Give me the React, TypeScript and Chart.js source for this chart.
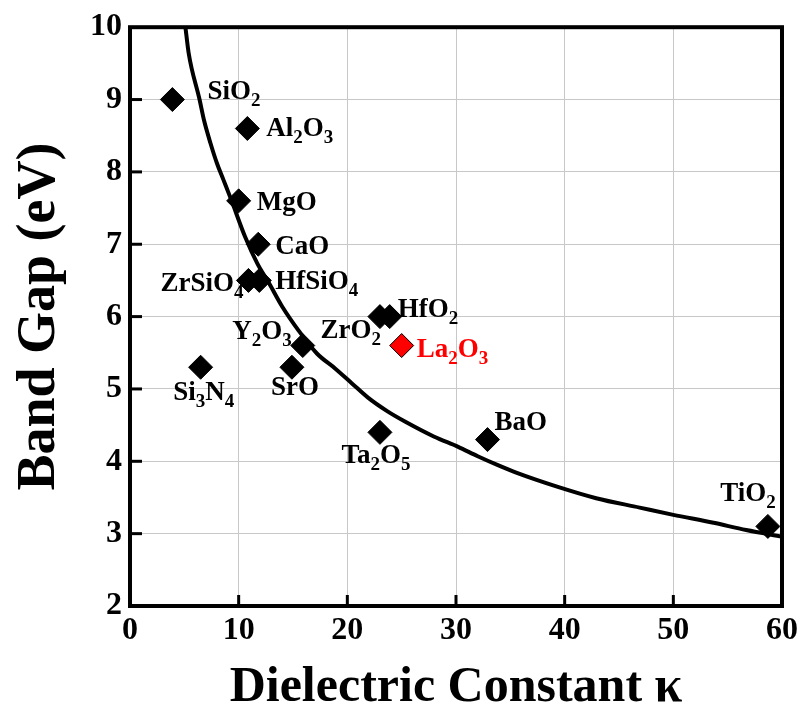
import React, { useEffect, useRef } from 'react';
import { Chart, registerables } from 'chart.js';

Chart.register(...registerables);

// ---- data ----
const materials = ['SiO_2', 'Al_2O_3', 'MgO', 'CaO', 'ZrSiO_4', 'HfSiO_4', 'HfO_2', 'ZrO_2', 'La_2O_3', 'Y_2O_3', 'SrO', 'Si_3N_4', 'Ta_2O_5', 'BaO', 'TiO_2'];
const kappa = [3.9, 10.8, 10, 11.8, 10.9, 11.9, 23.9, 23, 25, 15.9, 14.9, 6.5, 23, 32.9, 58.7];
const bandGap = [9.0, 8.6, 7.6, 7.0, 6.5, 6.5, 6.0, 6.0, 5.6, 5.6, 5.3, 5.3, 4.4, 4.3, 3.1];
const highlighted = 'La_2O_3';

const curveKappa = [5.1, 5.4, 6.4, 6.8, 7.4, 8.0, 8.6, 9.3, 10.6, 11.7, 12.8, 14.0, 15.5, 17.2, 18.9, 20.4, 21.9, 23.7, 25.3, 28.0, 30.2, 32.0, 33.8, 35.6, 39.3, 42.9, 46.9, 50.0, 53.7, 56.7, 60];
const curveGap = [10.0, 9.64, 9.0, 8.72, 8.4, 8.12, 7.89, 7.62, 7.1, 6.74, 6.46, 6.14, 5.81, 5.49, 5.28, 5.08, 4.88, 4.69, 4.55, 4.34, 4.2, 4.07, 3.95, 3.84, 3.65, 3.49, 3.36, 3.26, 3.15, 3.05, 2.96];

const xTitle = 'Dielectric Constant κ';
const yTitle = 'Band Gap (eV)';

// ---- label placement (style, not data): anchor, dx, dy(baseline) relative to marker ----
const labelPlacement: Record<string, [string, number, number]> = {
  'SiO_2': ['left', 35, -1],
  'Al_2O_3': ['left', 19, 8],
  'MgO': ['left', 18, 9],
  'CaO': ['left', 17, 10],
  'ZrSiO_4': ['right', -5, 11],
  'HfSiO_4': ['left', 16, 9],
  'HfO_2': ['left', 8, 0],
  'ZrO_2': ['right', 1, 21],
  'La_2O_3': ['left', 15, 11],
  'Y_2O_3': ['right', -11, -7],
  'SrO': ['center', 3, 28],
  'Si_3N_4': ['center', 3, 33],
  'Ta_2O_5': ['center', -4, 31],
  'BaO': ['left', 7, -10],
  'TiO_2': ['right', 8, -25],
};

const FAMILY = '"Liberation Serif", "Times New Roman", serif';
const MAIN_FONT = `bold 27px ${FAMILY}`;
const SUB_FONT = `bold 19px ${FAMILY}`;
const SUB_SHIFT = 7;

function parseLabel(s: string): { t: string; sub: boolean }[] {
  const parts: { t: string; sub: boolean }[] = [];
  let i = 0;
  let buf = '';
  while (i < s.length) {
    if (s[i] === '_') {
      if (buf) parts.push({ t: buf, sub: false });
      buf = '';
      parts.push({ t: s[i + 1], sub: true });
      i += 2;
    } else {
      buf += s[i];
      i++;
    }
  }
  if (buf) parts.push({ t: buf, sub: false });
  return parts;
}

const labelsPlugin = {
  id: 'materialLabels',
  afterDatasetsDraw(chart: any) {
    const ctx = chart.ctx;
    const xs = chart.scales.x;
    const ys = chart.scales.y;
    ctx.save();
    ctx.textBaseline = 'alphabetic';
    ctx.textAlign = 'left';
    materials.forEach((m, i) => {
      const px = xs.getPixelForValue(kappa[i]);
      const py = ys.getPixelForValue(bandGap[i]);
      const [anchor, dx, dy] = labelPlacement[m] || ['left', 12, 8];
      const parts = parseLabel(m);
      let w = 0;
      parts.forEach((p) => {
        ctx.font = p.sub ? SUB_FONT : MAIN_FONT;
        w += ctx.measureText(p.t).width;
      });
      let x = px + dx;
      if (anchor === 'right') x -= w;
      else if (anchor === 'center') x -= w / 2;
      const y = py + dy;
      ctx.fillStyle = m === highlighted ? '#ff0000' : '#000000';
      parts.forEach((p) => {
        ctx.font = p.sub ? SUB_FONT : MAIN_FONT;
        ctx.fillText(p.t, x, p.sub ? y + SUB_SHIFT : y);
        x += ctx.measureText(p.t).width;
      });
    });
    ctx.restore();
  },
};

const framePlugin = {
  id: 'frameAndTicks',
  afterDraw(chart: any) {
    const ctx = chart.ctx;
    const { left, right, top, bottom } = chart.chartArea;
    const xs = chart.scales.x;
    const ys = chart.scales.y;
    ctx.save();
    ctx.strokeStyle = '#000';
    ctx.lineWidth = 3;
    xs.ticks.forEach((t: any) => {
      const px = xs.getPixelForValue(t.value);
      if (Math.abs(px - left) < 2 || Math.abs(px - right) < 2) return;
      ctx.beginPath();
      ctx.moveTo(px, bottom);
      ctx.lineTo(px, bottom - 11);
      ctx.stroke();
    });
    ys.ticks.forEach((t: any) => {
      const py = ys.getPixelForValue(t.value);
      if (Math.abs(py - top) < 2 || Math.abs(py - bottom) < 2) return;
      ctx.beginPath();
      ctx.moveTo(left, py);
      ctx.lineTo(left + 12, py);
      ctx.stroke();
    });
    ctx.lineWidth = 4;
    ctx.strokeRect(left, top, right - left, bottom - top);
    ctx.restore();
  },
};

export default function App() {
  const ref = useRef<HTMLCanvasElement | null>(null);

  useEffect(() => {
    document.body.style.margin = '0';
    const canvas = ref.current;
    if (!canvas) return;
    const tickFont = { family: FAMILY, size: 32, weight: 'bold' as const };
    const chart = new Chart(canvas, {
      type: 'scatter',
      data: {
        datasets: [
          {
            type: 'scatter',
            data: kappa.map((k, i) => ({ x: k, y: bandGap[i] })),
            pointStyle: 'rectRot',
            pointRadius: 12,
            pointHoverRadius: 12,
            pointBackgroundColor: materials.map((m) => (m === highlighted ? '#ff0000' : '#000000')),
            pointBorderColor: '#000000',
            pointBorderWidth: 1,
          },
          {
            type: 'line',
            data: curveKappa.map((k, i) => ({ x: k, y: curveGap[i] })),
            borderColor: '#000000',
            borderWidth: 4,
            pointRadius: 0,
            fill: false,
            cubicInterpolationMode: 'monotone',
          } as any,
        ],
      },
      options: {
        animation: false,
        responsive: false,
        devicePixelRatio: 1,
        layout: { padding: { top: 27, right: 12, left: 0, bottom: 0 } },
        plugins: { legend: { display: false }, tooltip: { enabled: false } },
        scales: {
          x: {
            type: 'linear',
            min: 0,
            max: 60,
            ticks: { stepSize: 10, color: '#000', font: tickFont, padding: 6, maxRotation: 0 },
            grid: { color: '#c8c8c8', lineWidth: 1, drawTicks: false },
            border: { display: false },
            title: {
              display: true,
              text: xTitle,
              color: '#000',
              font: { family: FAMILY, size: 50, weight: 'bold', lineHeight: 1.0 },
              padding: { top: 0, bottom: 0 },
            },
            afterFit: (s: any) => {
              s.height = 107;
            },
          },
          y: {
            type: 'linear',
            min: 2,
            max: 10,
            ticks: { stepSize: 1, color: '#000', font: tickFont, padding: 8 },
            grid: { color: '#c8c8c8', lineWidth: 1, drawTicks: false },
            border: { display: false },
            title: {
              display: true,
              text: yTitle,
              color: '#000',
              font: { family: FAMILY, size: 54, weight: 'bold', lineHeight: 1.0 },
              padding: { top: 13, bottom: 0 },
            },
            afterFit: (s: any) => {
              s.width = 130;
            },
          },
        },
      },
      plugins: [labelsPlugin, framePlugin],
    });
    return () => chart.destroy();
  }, []);

  return <canvas ref={ref} width={804} height={713} style={{ display: 'block' }} />;
}
